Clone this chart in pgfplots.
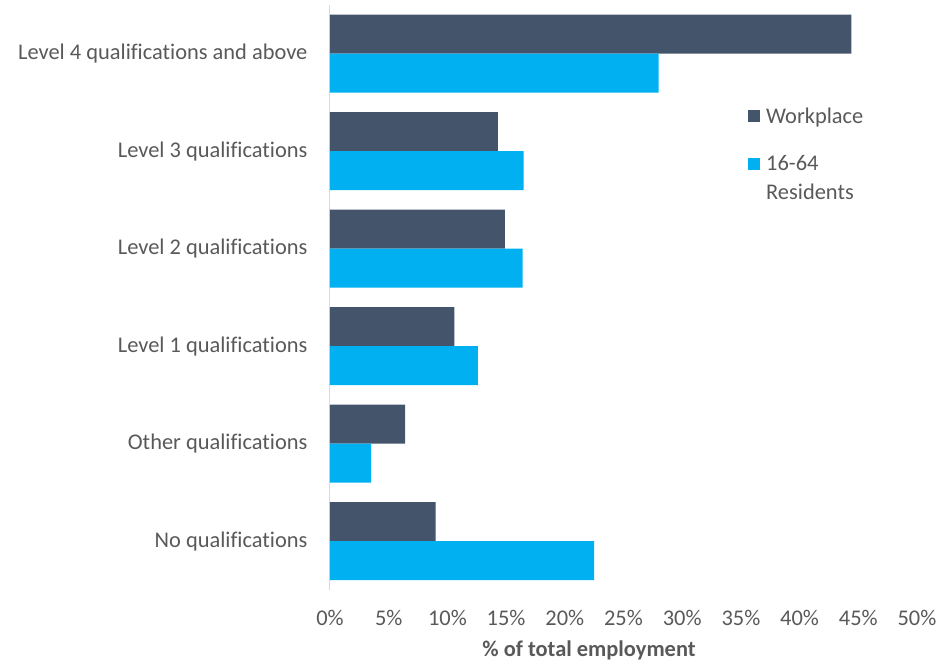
\documentclass[border=0pt]{standalone}
\usepackage{fontspec}
\setmainfont{Carlito}[Ligatures=NoCommon]
\usepackage{pgfplots}
\pgfplotsset{compat=1.18}
\definecolor{workc}{HTML}{44546A}
\definecolor{resc}{HTML}{00B0F0}
\definecolor{txtc}{HTML}{595959}
\definecolor{axc}{HTML}{D9D9D9}
\newcommand{\lbl}{\fontsize{22.5}{29}\selectfont}
\pgfplotsset{
    sqimg/.style={legend image code/.code={\fill[##1] (0bp,-6bp) rectangle (12bp,6bp); \path (16bp,0bp);}},
    sqimgup/.style={legend image code/.code={\fill[##1] (0bp,8.5bp) rectangle (12bp,20.5bp); \path (16bp,0bp);}},
}
\begin{document}
\begin{tikzpicture}
\useasboundingbox (-330bp,-70bp) rectangle (621bp,590bp);
\begin{axis}[
    at={(0,0)}, anchor=south west,
    scale only axis,
    width=587bp, height=585bp,
    xbar, bar width=0.4,
    xmin=0, xmax=50,
    ymin=-0.5, ymax=5.5,
    axis x line*=bottom,
    axis y line*=left,
    x axis line style={draw=none},
    y axis line style={draw=axc, line width=1pt},
    ytick={0,1,2,3,4,5},
    yticklabels={No qualifications, Other qualifications, Level 1 qualifications, Level 2 qualifications, Level 3 qualifications, Level 4 qualifications and above},
    major tick length=0pt,
    yticklabel style={font=\lbl, text=txtc, xshift=-19bp},
    xtick={0,5,...,50},
    xticklabel={\pgfmathprintnumber{\tick}\%},
    xticklabel style={font=\lbl, text=txtc, yshift=-17bp},
    /pgf/number format/assume math mode=true,
    legend style={at={(0.707,0.832)}, anchor=north west, draw=none, fill=none,
        font=\lbl, text=txtc, cells={align=left, anchor=west},
        row sep=27bp},
]
\addplot[fill=workc, draw=none, bar shift=0.2, sqimg] coordinates {
    (9.0,0) (6.4,1) (10.6,2) (14.9,3) (14.3,4) (44.4,5)
};
\addlegendentry{Workplace}
\addplot[fill=resc, draw=none, bar shift=-0.2, sqimgup] coordinates {
    (22.5,0) (3.5,1) (12.6,2) (16.4,3) (16.5,4) (28.0,5)
};
\addlegendentry{16-64\\Residents}
\end{axis}
\node[font=\lbl\bfseries, text=txtc] at (259bp,-60bp) {\% of total employment};
\end{tikzpicture}
\end{document}
